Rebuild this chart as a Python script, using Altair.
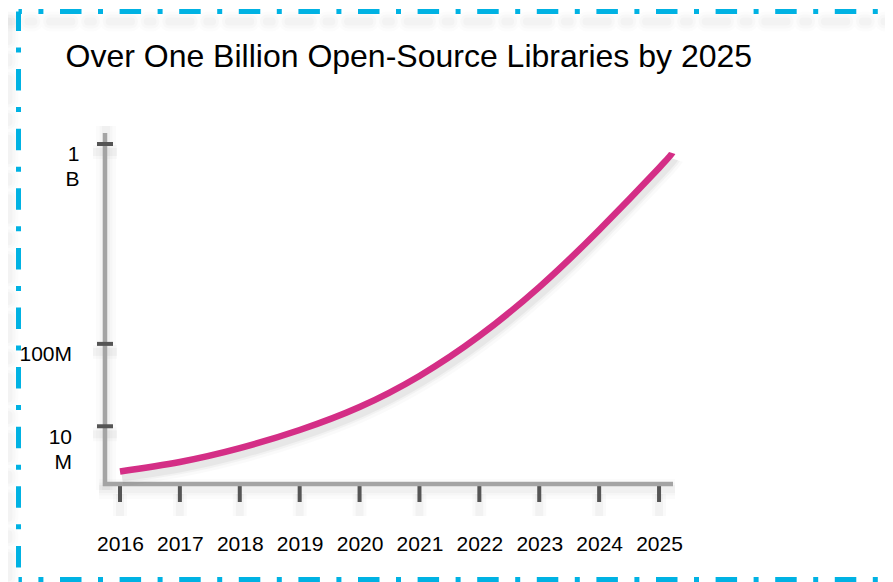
import altair as alt
import pandas as pd

# ---------------- data ----------------
TITLE = "Over One Billion Open-Source Libraries by 2025"
years = [2016, 2017, 2018, 2019, 2020, 2021, 2022, 2023, 2024, 2025]
curve_years = [2016, 2017, 2018, 2019, 2020, 2021, 2022, 2023, 2024, 2025, 2025.22]
libraries = [0.19e6, 0.82e6, 2.9e6, 8.4e6, 21.1e6, 50.9e6, 115.3e6, 242e6, 469e6, 827e6, 932e6]
y_tick_values = [1e7, 1e8, 1e9]

# ---------------- style ----------------
W, H = 568, 350
FONT = "Liberation Sans, Arial, Helvetica, sans-serif"
LINE_COLOR = "#d42e86"
AXIS_COLOR = "#a4a4a4"
TICK_COLOR = "#555555"
BORDER_COLOR = "#00b2e3"
DASH = [21.5, 16.5, 5, 16.6]

curve_df = pd.DataFrame({"year": curve_years, "value": libraries})
year_df = pd.DataFrame({"year": years})
ytick_df = pd.DataFrame({"value": y_tick_values})
one = pd.DataFrame({"k": [0]})

x_scale = alt.Scale(domain=[2015.75, 2025.233], nice=False, zero=False)
y_scale = alt.Scale(type="pow", exponent=0.385, domain=[0, 1.078e9], nice=False, zero=True)

x_axis = alt.Axis(values=years, format="d", domain=False, ticks=False, grid=False,
                  labelFont=FONT, labelFontSize=21, labelColor="#000",
                  labelPadding=66, labelBaseline="alphabetic",
                  labelFlush=False, labelOverlap=False, title=None)
y_axis = alt.Axis(values=y_tick_values,
                  labelExpr="datum.value >= 1e9 ? ['1', 'B'] : datum.value >= 1e8 ? '100M' : ['10', 'M']",
                  domain=False, ticks=False, grid=False,
                  labelFont=FONT, labelFontSize=21, labelColor="#000",
                  labelAlign="right", labelBaseline="top", labelLineHeight=25,
                  labelPadding={"condition": {"test": "datum.value >= 1e9", "value": 26}, "value": 33.5},
                  labelFlush=False, labelOverlap=False, title=None)

x_enc = alt.X("year:Q", scale=x_scale, axis=x_axis)
y_enc = alt.Y("value:Q", scale=y_scale, axis=y_axis)


def hrule(x1, x2, y, color, width, opacity=1.0, dash=None, dash_offset=0, cap="butt"):
    kw = dict(color=color, strokeWidth=width, opacity=opacity, strokeCap=cap)
    if dash:
        kw.update(strokeDash=dash, strokeDashOffset=dash_offset)
    return alt.Chart(one).mark_rule(**kw).encode(x=alt.value(x1), x2=alt.value(x2), y=alt.value(y))


def vrule(x, y1, y2, color, width, opacity=1.0, dash=None, dash_offset=0, cap="butt"):
    kw = dict(color=color, strokeWidth=width, opacity=opacity, strokeCap=cap)
    if dash:
        kw.update(strokeDash=dash, strokeDashOffset=dash_offset)
    return alt.Chart(one).mark_rule(**kw).encode(x=alt.value(x), y=alt.value(y1), y2=alt.value(y2))


# border (dash-dot frame around the whole figure) in view pixel coords
BL, BT, BR, BB = -86.5, -122.5, 792, 445.5
layers = []
for w, op in [(20, 0.012), (14, 0.016), (8, 0.02)]:
    layers += [
        hrule(BL - 10, BR - 10, BT + 10, "#000", w, op, DASH, 18.1, "round"),
        vrule(BL - 10, BT + 10, BB + 10, "#000", w, op, DASH, 2, "round"),
    ]
layers += [
    hrule(BL, BR, BT, BORDER_COLOR, 5, 1, DASH, 18.1),
    vrule(BL, BT, BB, BORDER_COLOR, 5, 1, DASH, 2),
    hrule(BL, BR, BB, BORDER_COLOR, 5, 1, DASH, 18.1),
    vrule(BR, BT, BB, BORDER_COLOR, 5, 1, DASH, 2),
]

# axis line shadows
for w, op in [(20, 0.015), (13, 0.02), (8, 0.025)]:
    layers += [
        vrule(1, -8, H + 6, "#000", w, op),
        hrule(-6, W + 2, H + 5, "#000", w, op),
    ]

# tick shadows
for w, op in [(14, 0.02), (8, 0.03)]:
    layers.append(alt.Chart(year_df).mark_rule(color="#000", strokeWidth=w, opacity=op).encode(
        x=x_enc, y=alt.value(H + 10), y2=alt.value(H + 32)))
    layers.append(alt.Chart(ytick_df).mark_rule(color="#000", strokeWidth=w, opacity=op, yOffset=8).encode(
        y=y_enc, x=alt.value(-12), x2=alt.value(12)))

# ticks
x_ticks = alt.Chart(year_df).mark_rule(color=TICK_COLOR, strokeWidth=4).encode(
    x=x_enc, y=alt.value(H + 2), y2=alt.value(H + 18))
y_ticks = alt.Chart(ytick_df).mark_rule(color=TICK_COLOR, strokeWidth=4).encode(
    y=y_enc, x=alt.value(-8), x2=alt.value(8))
layers += [x_ticks]

# axis lines
layers += [
    vrule(0, -1, H + 2, AXIS_COLOR, 4.5),
    hrule(-2, W, H, AXIS_COLOR, 4.5),
]
layers += [y_ticks]

# curve shadow + curve
for w, op in [(18, 0.02), (12, 0.03), (8, 0.045)]:
    layers.append(alt.Chart(curve_df).mark_line(color="#000", strokeWidth=w, opacity=op,
                                                interpolate="natural", xOffset=2, yOffset=6,
                                                strokeCap="butt").encode(x=x_enc, y=y_enc))
layers.append(alt.Chart(curve_df).mark_line(color=LINE_COLOR, strokeWidth=6.5,
                                            interpolate="natural", strokeCap="butt").encode(x=x_enc, y=y_enc))

# title as text
layers.append(alt.Chart(pd.DataFrame({"t": [TITLE]})).mark_text(
    font=FONT, fontSize=32, color="#000", align="left", baseline="alphabetic").encode(
    text="t:N", x=alt.value(-39.5), y=alt.value(-67.5)))

chart = alt.layer(*layers).properties(
    width=W, height=H,
    autosize=alt.AutoSizeParams(type="none"),
    padding={"left": 97, "top": 126, "right": 212, "bottom": 98},
    background="white",
).configure_view(stroke=None)

chart.save("out.html", embed_options={"renderer": "svg", "actions": False})
